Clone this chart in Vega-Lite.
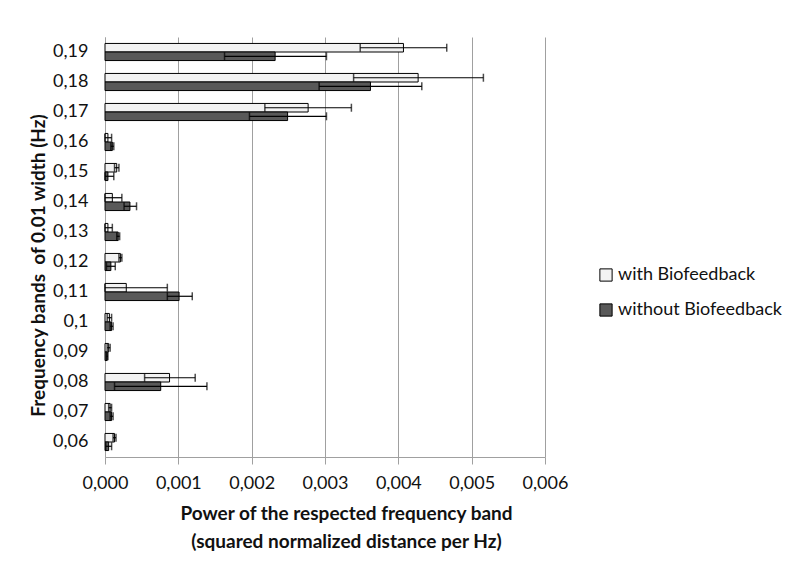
{
  "$schema": "https://vega.github.io/schema/vega-lite/v6.json",
  "autosize": {"type": "none"},
  "padding": {"left": 105, "top": 37, "right": 255, "bottom": 130},
  "width": 440,
  "height": 420,
  "background": "white",
  "config": {
    "font": "Lato",
    "view": {"stroke": null},
    "axis": {"labelColor": "#111", "titleColor": "#111"}
  },
  "data": {
    "values": [
      {"band": "0,19", "series": "with Biofeedback", "value": 0.00407, "lo": 0.00348, "hi": 0.00466},
      {"band": "0,19", "series": "without Biofeedback", "value": 0.00232, "lo": 0.00163, "hi": 0.00302},
      {"band": "0,18", "series": "with Biofeedback", "value": 0.00427, "lo": 0.00339, "hi": 0.00516},
      {"band": "0,18", "series": "without Biofeedback", "value": 0.00362, "lo": 0.00292, "hi": 0.00432},
      {"band": "0,17", "series": "with Biofeedback", "value": 0.00277, "lo": 0.00218, "hi": 0.00336},
      {"band": "0,17", "series": "without Biofeedback", "value": 0.00249, "lo": 0.00197, "hi": 0.00302},
      {"band": "0,16", "series": "with Biofeedback", "value": 0.00004, "lo": 0.0, "hi": 0.00009},
      {"band": "0,16", "series": "without Biofeedback", "value": 0.0001, "lo": 0.00008, "hi": 0.00012},
      {"band": "0,15", "series": "with Biofeedback", "value": 0.00016, "lo": 0.00013, "hi": 0.00019},
      {"band": "0,15", "series": "without Biofeedback", "value": 0.00004, "lo": 0.0, "hi": 0.00012},
      {"band": "0,14", "series": "with Biofeedback", "value": 0.0001, "lo": 0.0, "hi": 0.00023},
      {"band": "0,14", "series": "without Biofeedback", "value": 0.00034, "lo": 0.00026, "hi": 0.00043},
      {"band": "0,13", "series": "with Biofeedback", "value": 0.00004, "lo": 0.0, "hi": 0.0001},
      {"band": "0,13", "series": "without Biofeedback", "value": 0.00018, "lo": 0.00016, "hi": 0.0002},
      {"band": "0,12", "series": "with Biofeedback", "value": 0.00021, "lo": 0.00019, "hi": 0.00023},
      {"band": "0,12", "series": "without Biofeedback", "value": 0.00008, "lo": 0.00002, "hi": 0.00014},
      {"band": "0,11", "series": "with Biofeedback", "value": 0.00029, "lo": 0.0, "hi": 0.00085},
      {"band": "0,11", "series": "without Biofeedback", "value": 0.00101, "lo": 0.00085, "hi": 0.00119},
      {"band": "0,1", "series": "with Biofeedback", "value": 0.00006, "lo": 0.00003, "hi": 0.00009},
      {"band": "0,1", "series": "without Biofeedback", "value": 0.00009, "lo": 0.00007, "hi": 0.00011},
      {"band": "0,09", "series": "with Biofeedback", "value": 0.00005, "lo": 0.00003, "hi": 0.00007},
      {"band": "0,09", "series": "without Biofeedback", "value": 0.00003, "lo": 0.00002, "hi": 0.00004},
      {"band": "0,08", "series": "with Biofeedback", "value": 0.00088, "lo": 0.00054, "hi": 0.00123},
      {"band": "0,08", "series": "without Biofeedback", "value": 0.00076, "lo": 0.00013, "hi": 0.00139},
      {"band": "0,07", "series": "with Biofeedback", "value": 0.00007, "lo": 0.00005, "hi": 0.00009},
      {"band": "0,07", "series": "without Biofeedback", "value": 0.00009, "lo": 0.00007, "hi": 0.00011},
      {"band": "0,06", "series": "with Biofeedback", "value": 0.00013, "lo": 0.00011, "hi": 0.00015},
      {"band": "0,06", "series": "without Biofeedback", "value": 0.00005, "lo": 0.00001, "hi": 0.00009}
    ]
  },
  "encoding": {
    "y": {
      "field": "band",
      "type": "nominal",
      "scale": {
        "domain": ["0,19", "0,18", "0,17", "0,16", "0,15", "0,14", "0,13", "0,12", "0,11", "0,1", "0,09", "0,08", "0,07", "0,06"],
        "paddingInner": 0.43,
        "paddingOuter": 0.215
      },
      "axis": {
        "title": "Frequency bands \u00a0of 0.01 width (Hz)",
        "titleFontSize": 19,
        "titleFontWeight": "bold",
        "titlePadding": 4,
        "titleY": 228,
        "labelFontSize": 18,
        "labelPadding": 17,
        "ticks": false,
        "domainColor": "#a0a0a0",
        "grid": false
      }
    },
    "yOffset": {
      "field": "series",
      "type": "nominal",
      "scale": {"domain": ["with Biofeedback", "without Biofeedback"], "paddingInner": 0, "paddingOuter": 0}
    }
  },
  "layer": [
    {
      "mark": {"type": "bar", "stroke": "black", "strokeWidth": 1},
      "encoding": {
        "x": {
          "field": "value",
          "type": "quantitative",
          "scale": {"domain": [0, 0.006], "nice": false},
          "axis": {
            "values": [0, 0.001, 0.002, 0.003, 0.004, 0.005, 0.006],
            "labelExpr": "replace(format(datum.value, '.3f'), '.', ',')",
            "labelFontSize": 18,
            "labelFlush": false,
            "labelOverlap": false,
            "labelPadding": 10,
            "tickSize": 7,
            "tickColor": "#a0a0a0",
            "domainColor": "#a0a0a0",
            "gridColor": "#a0a0a0",
            "grid": true,
            "title": ["Power of the respected frequency band", "(squared normalized distance per Hz)"],
            "titleFontSize": 19,
            "titleFontWeight": "bold",
            "titleLineHeight": 28,
            "titlePadding": 12,
            "titleX": 241
          }
        },
        "fill": {
          "field": "series",
          "type": "nominal",
          "scale": {"domain": ["with Biofeedback", "without Biofeedback"], "range": ["#f2f2f2", "#595959"]},
          "legend": {
            "title": null,
            "orient": "none",
            "legendX": 492,
            "legendY": 229,
            "symbolType": "square",
            "symbolSize": 150,
            "symbolStrokeColor": "black",
            "symbolStrokeWidth": 1,
            "labelFontSize": 18,
            "labelLimit": 300,
            "labelColor": "#111",
            "labelOffset": 3,
            "rowPadding": 17
          }
        }
      }
    },
    {
      "mark": {"type": "rule", "color": "black", "strokeWidth": 1.2},
      "encoding": {
        "x": {"field": "lo", "type": "quantitative"},
        "x2": {"field": "hi"}
      }
    },
    {
      "mark": {"type": "tick", "color": "black", "thickness": 1.5, "size": 8},
      "encoding": {"x": {"field": "hi", "type": "quantitative"}}
    },
    {
      "mark": {"type": "tick", "color": "black", "thickness": 1.5, "size": 8},
      "encoding": {"x": {"field": "lo", "type": "quantitative"}}
    }
  ]
}
